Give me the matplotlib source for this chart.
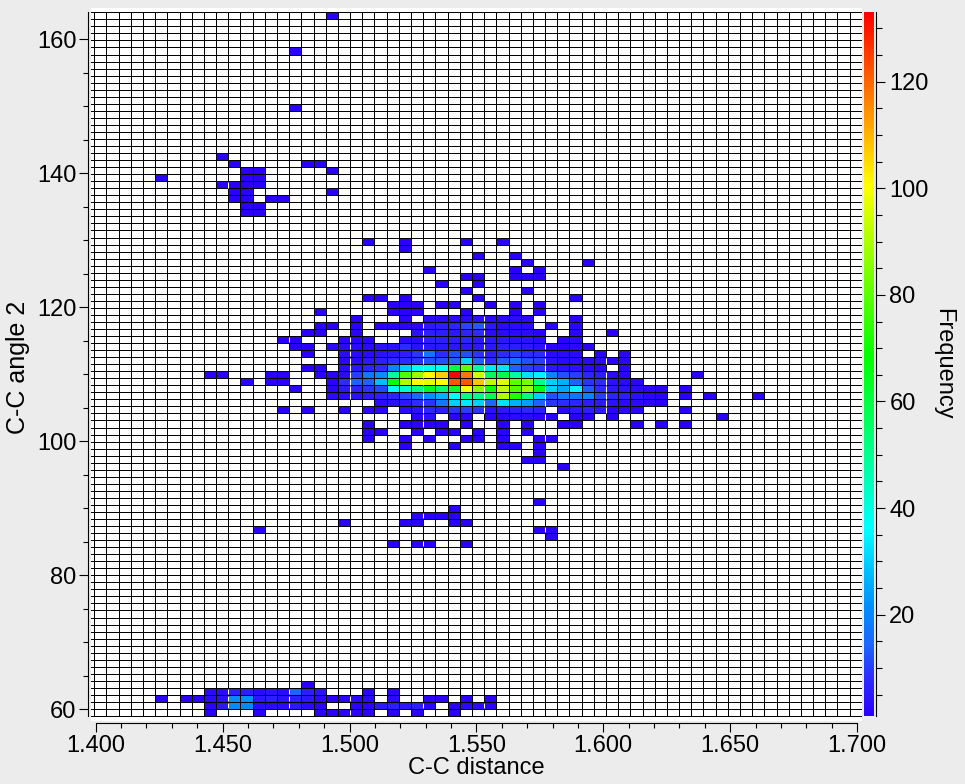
import numpy as np
import matplotlib
matplotlib.use('Agg')
import matplotlib.pyplot as plt
from matplotlib.colors import LinearSegmentedColormap, hsv_to_rgb
from matplotlib.ticker import MultipleLocator

plt.rcParams['font.family'] = ['Liberation Sans', 'DejaVu Sans']

# histogram bins, 64 x 100
dist_start = 1.39945
dist_step = 0.0048
angle_start = 58.95
angle_step = 1.0508
n_dist = 64
n_angle = 100

# dense rows: counts from a first column, 0 = empty
row_58 = [1, 1, 1, 0, 0, 0, 0, 0, 1, 0, 1, 0, 1]
row_57 = [1, 1, 1, 0, 0, 0, 1, 0, 0, 0, 1, 0, 1]
row_56 = [2, 0, 0, 0, 2, 0, 3, 3, 3, 3, 4, 3, 3, 3, 3, 0, 0, 0, 2]
row_55 = [1, 1, 0, 2, 0, 2, 1, 2, 2, 5, 6, 7, 11, 13, 5, 3, 3, 3, 0, 1, 0, 2]
row_54 = [1, 1, 0, 0, 2, 0, 0, 0, 0, 4, 6, 6, 5, 7, 8, 3, 3, 3, 3, 2, 0, 0, 2, 0, 0, 1]
row_53 = [1, 1, 0, 0, 0, 2, 2, 2, 0, 0, 3, 3, 6, 6, 6, 7, 5, 5, 5, 4, 4, 3, 0, 2, 3]
row_52 = [1, 1, 0, 3, 3, 3, 3, 4, 4, 8, 4, 5, 5, 5, 5, 5, 5, 6, 6, 5, 4, 2, 2, 3, 2]
row_51 = [1, 0, 0, 3, 3, 3, 4, 5, 6, 9, 17, 8, 12, 12, 9, 6, 8, 10, 8, 8, 3, 3, 3, 0, 2, 0, 2]
row_50 = [2, 3, 5, 6, 8, 8, 9, 12, 12, 14, 30, 14, 8, 13, 17, 12, 10, 4, 3, 3, 3, 3, 2, 2]
row_49 = [1, 1, 0, 3, 5, 7, 8, 20, 30, 37, 38, 38, 60, 80, 48, 33, 32, 14, 10, 9, 5, 4, 4, 3, 2, 0, 2]
row_48 = [2, 2, 3, 10, 18, 22, 48, 78, 88, 100, 107, 133, 118, 95, 58, 58, 48, 32, 35, 20, 12, 10, 7, 6, 3, 2]
row_47 = [2, 8, 14, 14, 28, 70, 90, 100, 97, 101, 122, 122, 108, 92, 96, 80, 84, 50, 30, 26, 14, 9, 8, 4, 3, 2]
row_46 = [2, 5, 7, 9, 11, 36, 42, 52, 65, 55, 63, 101, 86, 70, 92, 78, 88, 66, 30, 25, 34, 13, 8, 5, 4, 3, 2, 2, 0, 1]
row_45 = [3, 3, 4, 5, 6, 7, 11, 15, 22, 26, 37, 52, 50, 58, 90, 72, 52, 30, 12, 18, 17, 20, 10, 7, 6, 4, 2, 2, 0, 1, 0, 1]
row_44 = [3, 4, 5, 8, 9, 18, 30, 33, 30, 15, 32, 26, 24, 14, 9, 8, 7, 6, 5, 4, 3, 3, 2, 1]
row_43 = [1, 0, 2, 2, 0, 3, 4, 7, 6, 9, 10, 9, 4, 5, 6, 7, 6, 0, 3, 5, 6, 5, 2, 2, 2]
row_42 = [2, 4, 0, 2, 2, 0, 2, 2, 3, 3, 2, 1, 0, 1, 1, 0, 1]
row_3 = [3, 3, 6, 6, 3, 4, 3, 14, 6, 4, 0, 0, 0, 2, 0, 2]
row_2 = [1, 0, 1, 1, 3, 4, 21, 22, 5, 6, 4, 6, 5, 3, 2, 2, 3, 3, 0, 3, 0, 0, 2, 2, 0, 2, 0, 2]
row_1 = [2, 5, 21, 21, 3, 3, 3, 5, 3, 2, 0, 0, 2, 2, 5, 6, 5, 6, 2, 0, 2, 3, 3, 2]
row_0 = [1, 0, 0, 0, 1, 0, 0, 0, 0, 2, 1, 1, 2, 2, 0, 2, 0, 1, 0, 0, 1]
dense_rows = [58, 57, 56, 55, 54, 53, 52, 51, 50, 49, 48, 47, 46, 45, 44, 43, 42, 3, 2, 1, 0]
dense_first = [24, 24, 21, 18, 17, 15, 16, 17, 20, 17, 18, 19, 19, 19, 23, 20, 26, 9, 5, 9, 9]
dense_counts = [row_58, row_57, row_56, row_55, row_54, row_53, row_52, row_51, row_50, row_49,
                row_48, row_47, row_46, row_45, row_44, row_43, row_42, row_3, row_2, row_1, row_0]

# lone cells, one count each
sparse_rows = [99, 94, 86, 79, 78, 78, 78, 77, 77, 77, 76, 76, 76, 75, 75, 75, 75, 74, 74, 74,
               73, 73, 73, 73, 72, 72, 71, 71, 67, 67, 67, 67, 66, 65, 65, 64, 64, 63, 63, 63,
               62, 62, 62, 62, 62, 61, 61, 60, 60, 59, 59, 59, 59, 59, 58, 58, 57, 57,
               48, 48, 48, 48, 48, 47, 47, 47, 46, 45, 43, 43, 43, 42,
               41, 41, 41, 41, 41, 41, 41, 41, 41, 41, 41, 41, 41,
               40, 40, 40, 40, 40, 40, 40, 40, 39, 39, 39, 39, 39, 39, 39, 39,
               38, 38, 38, 38, 38, 37, 36, 36, 35,
               30, 29, 28, 28, 28, 28, 27, 27, 27, 27, 27, 26, 26, 26, 25, 24, 24, 24, 24,
               4]
sparse_cols = [19, 16, 16, 10, 11, 17, 18, 12, 13, 19, 5, 12, 13, 10, 11, 12, 13, 11, 12, 19,
               11, 12, 14, 15, 12, 13, 12, 13, 22, 25, 30, 33, 25, 31, 34, 35, 40, 27, 34, 36,
               30, 31, 34, 35, 36, 28, 31, 30, 35, 22, 23, 25, 31, 39, 28, 29, 18, 30,
               9, 10, 14, 15, 49, 12, 14, 15, 16, 54, 15, 17, 48, 51,
               22, 25, 26, 27, 28, 30, 33, 35, 38, 39, 44, 46, 48,
               22, 23, 26, 28, 29, 31, 33, 35, 22, 25, 27, 30, 31, 33, 36, 37,
               25, 29, 33, 34, 36, 36, 35, 36, 38,
               36, 29, 26, 27, 28, 29, 20, 25, 26, 29, 30, 13, 36, 37, 37, 24, 26, 27, 30,
               17]
sparse_counts = [1] * len(sparse_rows)

# columns where the tiles of the plot meet
seam_cols = [11, 16, 21, 27, 32, 37, 42]

# low end of the colour scale is a paler blue, the rest runs by hue down to red
low_levels = [1, 8, 14, 22]
low_colours = [(43 / 255, 0, 1), (45 / 255, 45 / 255, 1), (30 / 255, 100 / 255, 1), (0, 145 / 255, 1)]
hues = np.arange(200, -1, -10)
stops = [((v - 1) / 132, c) for v, c in zip(low_levels, low_colours)]
for h in hues:
    stops.append((1 - h / 250 * (1 - 21 / 132) / (206 / 250), hsv_to_rgb((h / 360, 1, 1))))
rainbow = LinearSegmentedColormap.from_list('freq', stops, N=256)

hist = np.zeros((n_angle, n_dist))
for r, c0, vals in zip(dense_rows, dense_first, dense_counts):
    hist[r, c0:c0 + len(vals)] = vals
for r, c, v in zip(sparse_rows, sparse_cols, sparse_counts):
    if hist[r, c] == 0:
        hist[r, c] = v

dist_edges = dist_start + dist_step * np.arange(n_dist + 1)
angle_edges = angle_start + angle_step * np.arange(n_angle + 1)

W, H = 965, 784
fig = plt.figure(figsize=(W / 100, H / 100), dpi=100, facecolor='#ececec')


def px_rect(x0, y0, x1, y1):
    return [x0 / W, 1 - y1 / H, (x1 - x0) / W, (y1 - y0) / H]


ax = fig.add_axes(px_rect(91, 8, 862, 720.7))
ax.set_facecolor('white')
mesh = ax.pcolormesh(dist_edges, angle_edges, np.ma.masked_equal(hist, 0),
                     cmap=rainbow, vmin=1, vmax=133, zorder=1)
ax.vlines(dist_edges, angle_edges[0], angle_edges[-1], color='black', lw=0.72, zorder=2, snap=True)
ax.hlines(angle_edges, -10, 10, color='black', lw=0.72, zorder=2, snap=True)

# white seams between coloured neighbours
for k in seam_cols:
    for r in range(n_angle):
        if hist[r, k - 1] > 0 and hist[r, k] > 0:
            ax.vlines(dist_edges[k], angle_edges[r] + 0.1, angle_edges[r + 1] - 0.1,
                      color='white', lw=0.72, zorder=3, snap=True)

ax.set_xlim(1.4 + (91 - 95.7) / 2538, 1.4 + (862 - 95.7) / 2538)
ax.set_ylim(60 - (720.7 - 709) / 6.697, 60 + (709 - 8) / 6.697)

for s in ['top', 'right']:
    ax.spines[s].set_visible(False)
ax.spines['left'].set_position(('outward', 2.2))
ax.spines['bottom'].set_position(('outward', 2))
ax.spines['left'].set_bounds(angle_edges[0], angle_edges[-1])
ax.spines['bottom'].set_bounds(1.4, 1.7)
ax.spines['left'].set_linewidth(0.8)
ax.spines['bottom'].set_linewidth(0.8)

ax.set_xticks(np.arange(1.4, 1.701, 0.05))
ax.set_xticklabels(['1.400', '1.450', '1.500', '1.550', '1.600', '1.650', '1.700'])
ax.set_yticks(np.arange(60, 161, 20))
ax.xaxis.set_minor_locator(MultipleLocator(0.01))
ax.yaxis.set_minor_locator(MultipleLocator(5))
ax.tick_params(which='major', length=6.3, width=0.8, labelsize=17, pad=2)
ax.tick_params(which='minor', length=3.6, width=0.8)

cax = fig.add_axes(px_rect(864, 12.3, 874, 716))
cbar = fig.colorbar(mesh, cax=cax)
cbar.outline.set_visible(False)
cax.spines['right'].set_visible(True)
cax.spines['right'].set_position(('outward', 1.7))
cax.spines['right'].set_linewidth(0.8)
cbar.set_ticks(np.arange(20, 121, 20))
cax.yaxis.set_minor_locator(MultipleLocator(5))
cax.tick_params(which='major', length=6.3, width=0.8, labelsize=17, pad=3)
cax.tick_params(which='minor', length=4, width=0.8)

fig.text(476 / W, 1 - 768 / H, 'C-C distance', fontsize=17, ha='center', va='center')
fig.text(18 / W, 1 - 367 / H, 'C-C angle 2', fontsize=18, rotation=90, ha='center', va='center')
fig.text(943 / W, 1 - 364 / H, 'Frequency', fontsize=17, rotation=-90, ha='center', va='center')

fig.savefig('out.png', dpi=100, facecolor=fig.get_facecolor())
